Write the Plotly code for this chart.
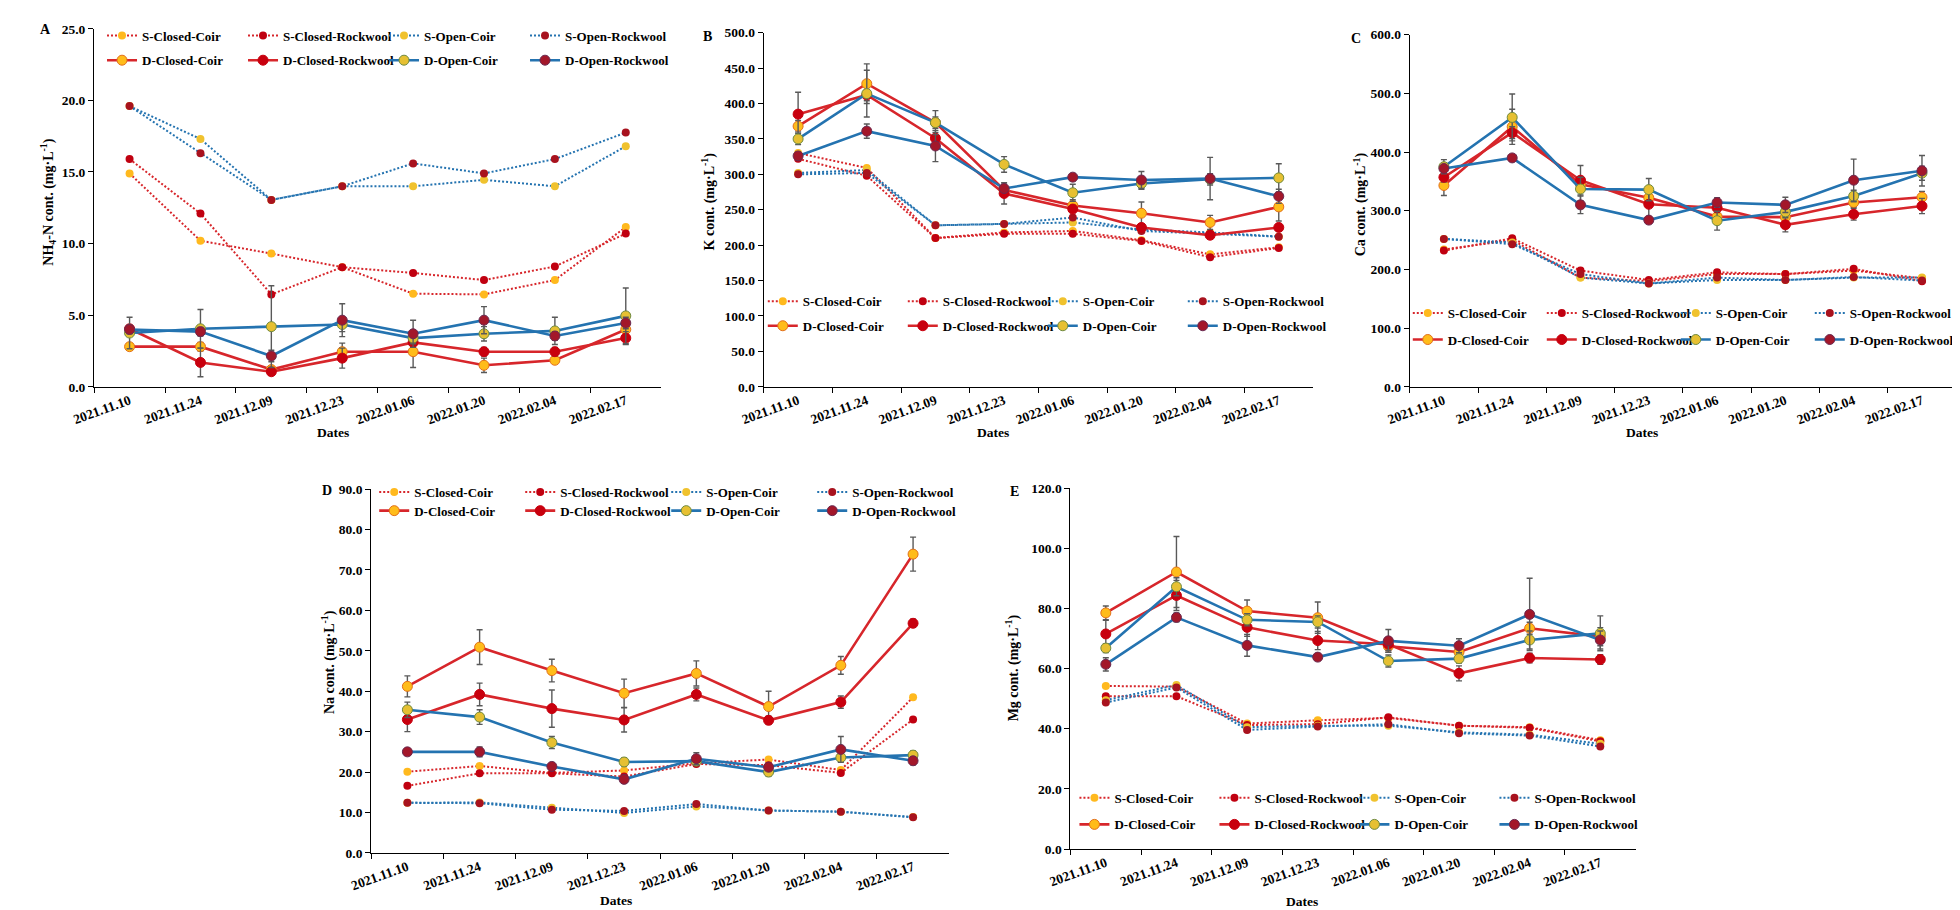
import plotly.graph_objects as go

W, H = 1960, 910
FONT = "Liberation Serif"

# ---------------- data ----------------
dates = ["2021.11.10", "2021.11.24", "2021.12.09", "2021.12.23",
         "2022.01.06", "2022.01.20", "2022.02.04", "2022.02.17"]

series_names = ["S-Closed-Coir", "S-Closed-Rockwool", "S-Open-Coir", "S-Open-Rockwool",
                "D-Closed-Coir", "D-Closed-Rockwool", "D-Open-Coir", "D-Open-Rockwool"]

# A: NH4-N (mg/L)
nh4_s_closed_coir = [14.9, 10.2, 9.3, 8.35, 6.5, 6.45, 7.45, 11.15]
nh4_s_closed_rock = [15.9, 12.1, 6.45, 8.35, 7.95, 7.45, 8.4, 10.7]
nh4_s_open_coir = [19.6, 17.3, 13.05, 14.0, 14.0, 14.45, 14.0, 16.8]
nh4_s_open_rock = [19.6, 16.3, 13.05, 14.0, 15.6, 14.9, 15.9, 17.75]
nh4_d_closed_coir = [2.8, 2.8, 1.2, 2.45, 2.45, 1.5, 1.85, 4.0]
nh4_d_closed_rock = [4.05, 1.7, 1.05, 2.0, 3.1, 2.45, 2.45, 3.4]
nh4_d_open_coir = [3.75, 4.05, 4.2, 4.35, 3.4, 3.7, 3.9, 4.95]
nh4_d_open_rock = [4.0, 3.85, 2.15, 4.65, 3.7, 4.65, 3.55, 4.45]
nh4_err_d_closed_coir = [0.2, 0.3, 0.2, 0.6, 1.1, 0.5, 0.2, 0.3]
nh4_err_d_closed_rock = [0.2, 1.0, 0.2, 0.7, 0.3, 0.3, 0.3, 0.45]
nh4_err_d_open_coir = [1.1, 1.35, 2.85, 0.5, 0.4, 0.5, 0.95, 1.95]
nh4_err_d_open_rock = [0.3, 0.3, 0.4, 1.15, 0.95, 0.95, 0.3, 0.4]

# B: K (mg/L)
k_s_closed_coir = [330, 309, 210, 218, 220, 207, 187, 197]
k_s_closed_rock = [322, 298, 210, 216, 216, 206, 183, 196]
k_s_open_coir = [302, 306, 228, 230, 232, 222, 218, 212]
k_s_open_rock = [300, 302, 228, 230, 239, 220, 216, 212]
k_d_closed_coir = [368, 428, 373, 278, 256, 245, 232, 254]
k_d_closed_rock = [385, 412, 351, 273, 251, 225, 214, 225]
k_d_open_coir = [350, 414, 373, 314, 274, 287, 293, 295]
k_d_open_rock = [326, 361, 340, 280, 296, 292, 294, 269]
k_err_d_closed_coir = [8, 28, 8, 8, 8, 16, 10, 20]
k_err_d_closed_rock = [31, 8, 8, 15, 5, 5, 5, 5]
k_err_d_open_coir = [8, 33, 17, 11, 12, 8, 8, 20]
k_err_d_open_rock = [5, 10, 22, 5, 5, 12, 30, 10]

# C: Ca (mg/L)
ca_s_closed_coir = [234, 250, 186, 180, 192, 192, 198, 185]
ca_s_closed_rock = [232, 253, 198, 182, 195, 192, 201, 180]
ca_s_open_coir = [252, 246, 186, 176, 182, 182, 186, 186]
ca_s_open_rock = [252, 243, 192, 176, 186, 182, 187, 181]
ca_d_closed_coir = [343, 443, 345, 322, 290, 289, 314, 323]
ca_d_closed_rock = [357, 433, 352, 311, 305, 276, 294, 308]
ca_d_open_coir = [375, 459, 337, 336, 283, 298, 325, 364]
ca_d_open_rock = [372, 390, 310, 284, 314, 310, 352, 368]
ca_err_d_closed_coir = [17, 30, 10, 10, 8, 8, 8, 10]
ca_err_d_closed_rock = [8, 10, 25, 24, 8, 12, 10, 13]
ca_err_d_open_coir = [12, 40, 20, 19, 16, 8, 10, 12]
ca_err_d_open_rock = [5, 5, 15, 5, 8, 13, 36, 26]

# D: Na (mg/L)
na_s_closed_coir = [20.1, 21.5, 19.8, 20.4, 22.2, 23.1, 20.5, 38.5]
na_s_closed_rock = [16.6, 19.7, 19.7, 18.9, 22.0, 21.7, 19.8, 33.0]
na_s_open_coir = [12.4, 12.5, 11.2, 9.9, 11.5, 10.5, 10.2, 8.9]
na_s_open_rock = [12.4, 12.3, 10.7, 10.4, 12.1, 10.5, 10.2, 8.8]
na_d_closed_coir = [41.2, 50.9, 45.1, 39.5, 44.4, 36.2, 46.4, 73.9]
na_d_closed_rock = [33.0, 39.2, 35.7, 32.9, 39.2, 32.8, 37.3, 56.8]
na_d_open_coir = [35.4, 33.6, 27.3, 22.5, 22.7, 20.0, 23.6, 24.2]
na_d_open_rock = [25.0, 25.0, 21.4, 18.2, 23.3, 21.2, 25.6, 22.8]
na_err_d_closed_coir = [2.6, 4.3, 2.8, 3.5, 3.1, 3.8, 2.2, 4.2]
na_err_d_closed_rock = [3.0, 2.8, 4.6, 3.0, 1.6, 1.0, 1.5, 1.0]
na_err_d_open_coir = [1.9, 1.8, 1.5, 1.0, 1.0, 1.0, 1.0, 1.0]
na_err_d_open_rock = [0.8, 1.2, 0.8, 0.8, 1.5, 0.8, 3.2, 1.0]

# E: Mg (mg/L)
mg_s_closed_coir = [54.2, 54.0, 41.7, 42.8, 43.6, 41.0, 40.5, 36.2]
mg_s_closed_rock = [50.8, 50.8, 41.2, 41.5, 43.8, 41.0, 40.3, 35.8]
mg_s_open_coir = [49.5, 54.5, 40.5, 41.0, 41.0, 38.8, 38.0, 35.0]
mg_s_open_rock = [48.7, 53.7, 39.6, 40.7, 41.5, 38.5, 37.7, 34.1]
mg_d_closed_coir = [78.5, 92.1, 79.1, 76.9, 67.4, 65.5, 73.4, 70.6]
mg_d_closed_rock = [71.5, 84.3, 73.7, 69.3, 68.1, 58.4, 63.5, 63.0]
mg_d_open_coir = [66.8, 87.2, 76.2, 75.5, 62.5, 63.3, 69.5, 71.7]
mg_d_open_rock = [61.4, 77.0, 67.7, 63.8, 69.2, 67.6, 78.0, 69.5]
mg_err_d_closed_coir = [2.3, 11.8, 3.7, 5.2, 2.0, 2.0, 2.0, 3.0]
mg_err_d_closed_rock = [4.5, 5.0, 3.0, 3.0, 2.0, 2.5, 1.6, 1.6]
mg_err_d_open_coir = [1.5, 3.0, 2.0, 2.0, 2.0, 1.5, 3.0, 5.8]
mg_err_d_open_rock = [2.2, 1.5, 3.6, 1.0, 3.8, 2.3, 12.0, 3.0]

y_titles = ["<b>NH<sub>4</sub>-N cont. (mg·L<sup>-1</sup>)</b>",
            "<b>K cont. (mg·L<sup>-1</sup>)</b>",
            "<b>Ca cont. (mg·L<sup>-1</sup>)</b>",
            "<b>Na cont. (mg·L<sup>-1</sup>)</b>",
            "<b>Mg cont. (mg·L<sup>-1</sup>)</b>"]
panel_letters = ["A", "B", "C", "D", "E"]
x_title = "Dates"

panel_values = [
    [nh4_s_closed_coir, nh4_s_closed_rock, nh4_s_open_coir, nh4_s_open_rock,
     nh4_d_closed_coir, nh4_d_closed_rock, nh4_d_open_coir, nh4_d_open_rock],
    [k_s_closed_coir, k_s_closed_rock, k_s_open_coir, k_s_open_rock,
     k_d_closed_coir, k_d_closed_rock, k_d_open_coir, k_d_open_rock],
    [ca_s_closed_coir, ca_s_closed_rock, ca_s_open_coir, ca_s_open_rock,
     ca_d_closed_coir, ca_d_closed_rock, ca_d_open_coir, ca_d_open_rock],
    [na_s_closed_coir, na_s_closed_rock, na_s_open_coir, na_s_open_rock,
     na_d_closed_coir, na_d_closed_rock, na_d_open_coir, na_d_open_rock],
    [mg_s_closed_coir, mg_s_closed_rock, mg_s_open_coir, mg_s_open_rock,
     mg_d_closed_coir, mg_d_closed_rock, mg_d_open_coir, mg_d_open_rock],
]
panel_errors = [
    [None, None, None, None, nh4_err_d_closed_coir, nh4_err_d_closed_rock, nh4_err_d_open_coir, nh4_err_d_open_rock],
    [None, None, None, None, k_err_d_closed_coir, k_err_d_closed_rock, k_err_d_open_coir, k_err_d_open_rock],
    [None, None, None, None, ca_err_d_closed_coir, ca_err_d_closed_rock, ca_err_d_open_coir, ca_err_d_open_rock],
    [None, None, None, None, na_err_d_closed_coir, na_err_d_closed_rock, na_err_d_open_coir, na_err_d_open_rock],
    [None, None, None, None, mg_err_d_closed_coir, mg_err_d_closed_rock, mg_err_d_open_coir, mg_err_d_open_rock],
]
y_ranges = [(0, 25), (0, 500), (0, 600), (0, 90), (0, 120)]
y_dticks = [5, 50, 100, 10, 20]

# ---------------- styles / layout (pixels) ----------------
RED = "#D7262B"
BLUE = "#2473B0"
styles = {
    "S-Closed-Coir":     dict(line=RED,  dash="2px,2px", lw=2.0, ms=8,  fill="#FFB91E", edge="#FFB91E", ew=0),
    "S-Closed-Rockwool": dict(line=RED,  dash="2px,2px", lw=2.0, ms=8,  fill="#C00010", edge="#C00010", ew=0),
    "S-Open-Coir":       dict(line=BLUE, dash="2px,2px", lw=2.0, ms=8,  fill="#F0C22E", edge="#F0C22E", ew=0),
    "S-Open-Rockwool":   dict(line=BLUE, dash="2px,2px", lw=2.0, ms=8,  fill="#A8121E", edge="#A8121E", ew=0),
    "D-Closed-Coir":     dict(line=RED,  dash="solid",   lw=2.6, ms=10, fill="#FFBC1A", edge="#E2701A", ew=1),
    "D-Closed-Rockwool": dict(line=RED,  dash="solid",   lw=2.6, ms=10, fill="#C8000E", edge="#C8000E", ew=1),
    "D-Open-Coir":       dict(line=BLUE, dash="solid",   lw=2.6, ms=10, fill="#E6C032", edge="#6F8A40", ew=1),
    "D-Open-Rockwool":   dict(line=BLUE, dash="solid",   lw=2.6, ms=10, fill="#A3172A", edge="#6A2A50", ew=1),
}

# plot areas in pixels: (x0, x1, ytop, ybottom)
areas = [(63, 638, 14, 378), (742, 1299, 18, 378), (1397, 1951, 20, 378),
         (344, 930, 482, 852), (1053, 1626, 481, 848)]
letter_pos = [(14, 15), (685, 22), (1342, 24), (299, 483), (996, 484)]
ytitle_pos = [(16, 190), (686, 190), (1347, 192), (300, 658), (994, 664)]
dates_pos = [(305, 424), (974, 425), (1632, 424), (592, 900), (1288, 901)]
# legend: (legend box left x, row1 y, row2 y, column pitch)
legend_pos = [(71, 21, 46, 141), (741, 291, 316, 140), (1395, 303, 330, 134),
              (347, 485, 504, 146), (1057, 796, 823, 140)]
LEG_FONT = 13
LAST_ENTRY_WIDTH = 113


def fx(p):
    return p / W


def fy(p):
    return 1 - p / H


fig = go.Figure()
layout = dict(width=W, height=H, margin=dict(l=0, r=0, t=0, b=0),
              paper_bgcolor="white", plot_bgcolor="white", showlegend=True,
              font=dict(family=FONT, color="black"))
annotations = []

for k in range(5):
    sfx = "" if k == 0 else str(k + 1)
    xa, ya = "x" + sfx, "y" + sfx
    legS = "legend" if k == 0 else "legend" + str(2 * k + 1)
    legD = "legend" + str(2 * k + 2)
    x0, x1, yt, yb = areas[k]
    layout["xaxis" + sfx] = dict(
        domain=[fx(x0), fx(x1)], anchor=ya, type="category", range=[-0.5, 7.5],
        showline=True, linecolor="black", linewidth=1.3, ticks="outside", ticklen=5,
        tickwidth=1.3, tickcolor="black", tickson="boundaries", tickangle=-20,
        showgrid=False, zeroline=False,
        tickfont=dict(family=FONT, size=13.5, color="black", weight="bold"))
    layout["yaxis" + sfx] = dict(
        domain=[fy(yb), fy(yt)], anchor=xa, range=list(y_ranges[k]), dtick=y_dticks[k],
        tickformat=".1f", showline=True, linecolor="black", linewidth=1.3,
        ticks="outside", ticklen=5, tickwidth=1.3, tickcolor="black",
        showgrid=False, zeroline=False,
        tickfont=dict(family=FONT, size=13.5, color="black", weight="bold"))

    lx, r1, r2, pitch = legend_pos[k]
    for leg, ry in ((legS, r1), (legD, r2)):
        layout[leg] = dict(x=fx(lx), y=fy(ry), xanchor="left", yanchor="middle",
                           orientation="h", bgcolor="rgba(0,0,0,0)", borderwidth=0,
                           entrywidth=pitch - 45, entrywidthmode="pixels", itemwidth=30,
                           traceorder="normal",
                           font=dict(family=FONT, size=LEG_FONT, color="black", weight="bold"))

    for i, name in enumerate(series_names):
        st = styles[name]
        err = panel_errors[k][i]
        ey = dict(type="data", array=err, visible=True, color="#595959",
                  thickness=1.4, width=3) if err is not None else dict(visible=False)
        extra = dict(legendwidth=LAST_ENTRY_WIDTH) if name.endswith("Open-Rockwool") else {}
        fig.add_trace(go.Scatter(
            x=dates, y=panel_values[k][i], mode="lines+markers", name=name,
            xaxis=xa, yaxis=ya, legend=legS if name.startswith("S") else legD,
            line=dict(color=st["line"], width=st["lw"], dash=st["dash"]),
            marker=dict(symbol="circle", size=st["ms"], color=st["fill"],
                        line=dict(color=st["edge"], width=st["ew"])),
            error_y=ey, hoverinfo="skip", **extra))

    lxp, lyp = letter_pos[k]
    annotations.append(dict(text="<b>" + panel_letters[k] + "</b>", x=fx(lxp), y=fy(lyp),
                            xref="paper", yref="paper", showarrow=False,
                            xanchor="center", yanchor="middle",
                            font=dict(family=FONT, size=14, color="black")))
    tx, ty = ytitle_pos[k]
    annotations.append(dict(text=y_titles[k], x=fx(tx), y=fy(ty), xref="paper", yref="paper",
                            showarrow=False, textangle=-90, xanchor="center", yanchor="middle",
                            font=dict(family=FONT, size=14, color="black")))
    dx, dy = dates_pos[k]
    annotations.append(dict(text="<b>" + x_title + "</b>", x=fx(dx), y=fy(dy),
                            xref="paper", yref="paper", showarrow=False,
                            xanchor="center", yanchor="middle",
                            font=dict(family=FONT, size=13.5, color="black")))

layout["annotations"] = annotations
fig.update_layout(**layout)
fig.write_html("out.html")
